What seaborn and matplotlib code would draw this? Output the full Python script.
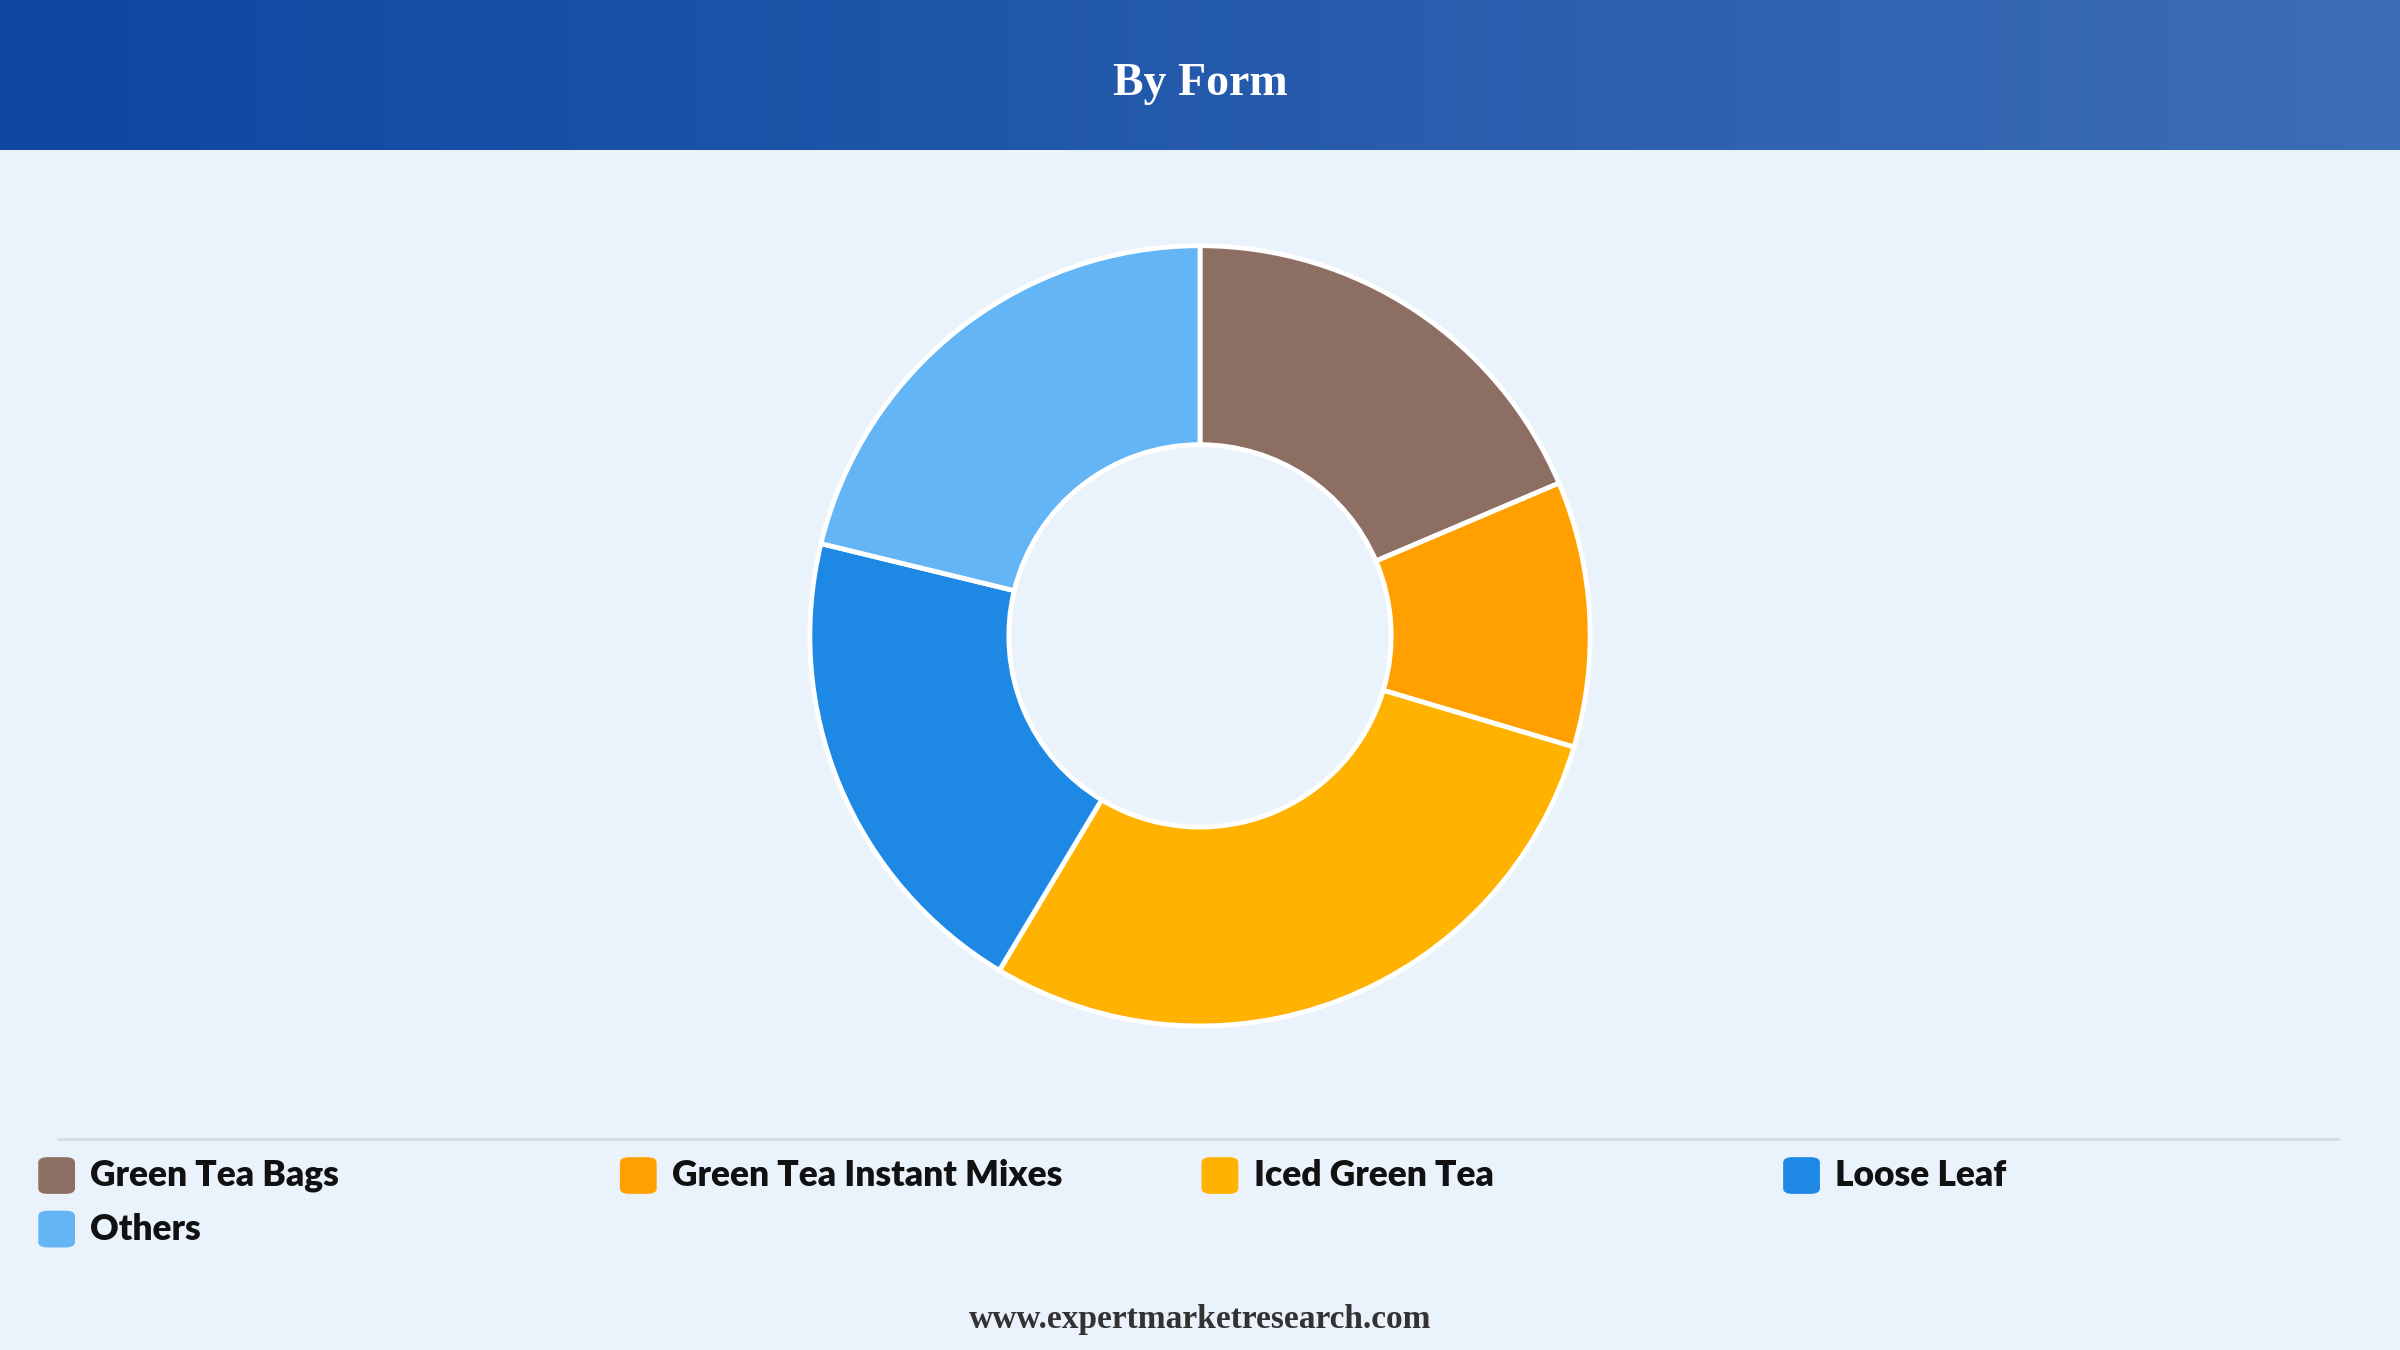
import matplotlib.pyplot as plt
import matplotlib.patches as mpatches
from matplotlib.colors import LinearSegmentedColormap
import numpy as np
import seaborn as sns

categories = ['Green Tea Bags', 'Green Tea Instant Mixes', 'Iced Green Tea', 'Loose Leaf', 'Others']
shares = [18.6, 11.0, 29.0, 20.2, 21.2]
colors = ['#8D6E63', '#FFA000', '#FFB300', '#1E88E5', '#64B5F6']

sns.set_theme(style='white')
plt.rcParams['font.family'] = ['Lato', 'DejaVu Sans']

fig = plt.figure(figsize=(24, 13.5), dpi=100)
fig.patch.set_facecolor('#EAF2FC')

# header band with gradient
hdr = fig.add_axes([0, 1 - 98 / 882, 1, 98 / 882])
grad = np.linspace(0, 1, 256).reshape(1, -1)
cmap = LinearSegmentedColormap.from_list('hdr', ['#0D47A1', '#3C6DB6'])
hdr.imshow(grad, aspect='auto', cmap=cmap, extent=[0, 1, 0, 1])
hdr.set_axis_off()
hdr.text(0.5, 0.44, 'By Form', ha='center', va='center', color='white',
         fontsize=33, fontweight='bold', family=['Liberation Serif', 'DejaVu Serif'])

# donut
h = 0.578
w = h * 13.5 / 24
ax = fig.add_axes([0.5 - w / 2, 0.529 - h / 2, w, h])
ax.pie(shares, colors=colors, startangle=90, counterclock=False, radius=1,
       wedgeprops=dict(width=0.51, edgecolor='white', linewidth=3.5))
ax.set_xlim(-1.0, 1.0)
ax.set_ylim(-1.0, 1.0)
ax.set_aspect('equal')
ax.set_axis_off()

# separator
fig.add_artist(plt.Line2D([38 / 1568, 1528 / 1568], [1 - 744 / 882] * 2, color='#D5DCE6', lw=2))

# legend
col_x = [25 / 1568, 405 / 1568, 785 / 1568, 1165 / 1568]
row_y = [1 - 768 / 882, 1 - 803 / 882]
sq_w = 24 / 1568
sq_h = 24 / 882
for i, (cat, c) in enumerate(zip(categories, colors)):
    x = col_x[i % 4]
    y = row_y[i // 4]
    fig.add_artist(mpatches.FancyBboxPatch((x, y - sq_h / 2), sq_w, sq_h,
                                           boxstyle='round,pad=0,rounding_size=0.004',
                                           transform=fig.transFigure, facecolor=c, edgecolor='none'))
    fig.text(x + sq_w + 10 / 1568, y, cat, ha='left', va='center', fontsize=25.5,
             fontweight='heavy', color='#111111')

fig.text(0.5, 1 - 862 / 882, 'www.expertmarketresearch.com', ha='center', va='center',
         fontsize=24, fontweight='bold', color='#333333',
         family=['Liberation Serif', 'DejaVu Serif'])

plt.savefig('out.png', dpi=100, facecolor=fig.get_facecolor())
plt.close()
